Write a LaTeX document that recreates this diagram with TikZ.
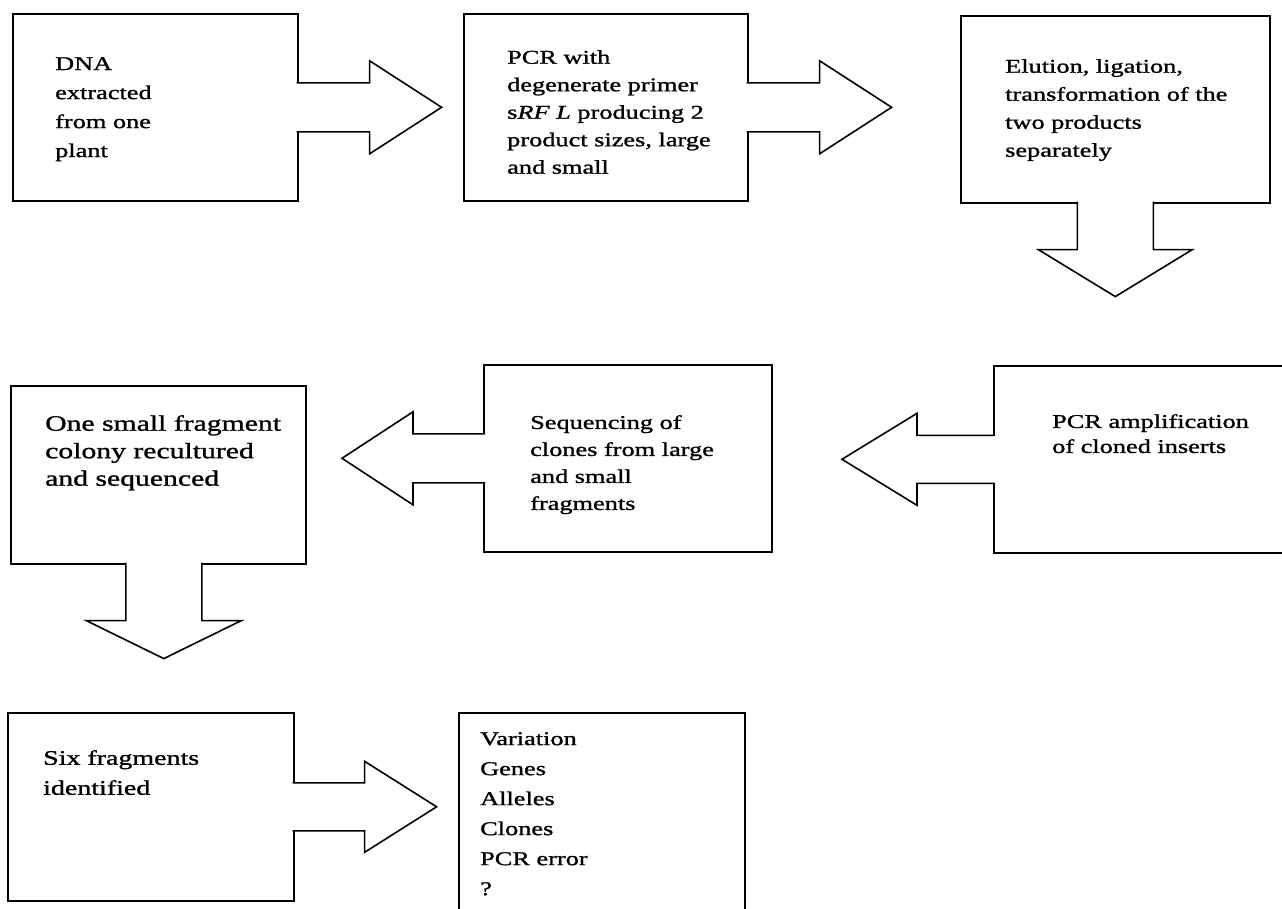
\documentclass[tikz,border=0pt]{standalone}
\usepackage{fontspec}
\setmainfont{Liberation Serif}[FakeStretch=1.35, FakeBold=1.2]
\usetikzlibrary{calc}

\begin{document}
\begin{tikzpicture}[
  x=1pt, y=-1pt,
  stagebox/.style={
    draw,
    line width=1.6pt,
    anchor=north west,
    inner sep=0pt
  },
  steptext/.style={
    anchor=north west,
    inner sep=0pt,
    align=left,
    font=\fontsize{19.5}{28}\selectfont
  },
  blockarrow/.style={draw, fill=white, line width=1.6pt, line join=miter}
]
\useasboundingbox (0,0) rectangle (1282,908);
\clip (0,0) rectangle (1282,908);

% boxes
\node[stagebox, minimum width=285, minimum height=187] (dna) at (12,13) {};
\node[stagebox, minimum width=284, minimum height=187] (pcr) at (463,13) {};
\node[stagebox, minimum width=309, minimum height=187] (elution) at (960,15) {};
\node[stagebox, minimum width=320, minimum height=187] (amplif) at (993,365) {};
\node[stagebox, minimum width=288, minimum height=187] (seq) at (483,364) {};
\node[stagebox, minimum width=295, minimum height=178] (recult) at (10,385) {};
\node[stagebox, minimum width=286, minimum height=188] (six) at (7,712) {};
\node[stagebox, minimum width=286, minimum height=230] (result) at (458,712) {};

% texts
\node[steptext, font=\fontsize{19.5}{29}\selectfont] (dnatext) at (55,57)
  {DNA\\extracted\\from one\\plant};
\node[steptext, font=\fontsize{19.5}{27.5}\selectfont] (pcrtext) at (507,50)
  {PCR with\\degenerate primer\\s\textit{RF L} producing 2\\product sizes, large\\and small};
\node[steptext] (eluttext) at (1005,59)
  {Elution, ligation,\\transformation of the\\two products\\separately};
\node[steptext, font=\fontsize{19.5}{25}\selectfont] (amptext) at (1052,414)
  {PCR amplification\\of cloned inserts};
\node[steptext, font=\fontsize{19.5}{27}\selectfont] (seqtext) at (530,415)
  {Sequencing of\\clones from large\\and small\\fragments};
\node[steptext, font=\fontsize{22}{27.5}\selectfont] (recultext) at (45,415)
  {One small fragment\\colony recultured\\and sequenced};
\node[steptext, font=\fontsize{20.7}{30}\selectfont] (sixtext) at (43,750)
  {Six fragments\\identified};
\node[steptext, font=\fontsize{19.5}{30}\selectfont] (resulttext) at (480,732)
  {Variation\\Genes\\Alleles\\Clones\\PCR error\\?};

% block arrows
\draw[blockarrow] ($(dna.east)+(-2,-24.5)$) -- ++(73,0) -- ++(0,-22) -- ++(72,46.5)
  -- ++(-72,46.5) -- ++(0,-22) -- ++(-73,0);
\draw[blockarrow] ($(pcr.east)+(-2,-24.5)$) -- ++(73,0) -- ++(0,-22) -- ++(72,46.5)
  -- ++(-72,46.5) -- ++(0,-22) -- ++(-73,0);
\draw[blockarrow] ($(elution.south)+(-38,-2)$) -- ++(0,48) -- ++(-39,0) -- ++(77,47)
  -- ++(77,-47) -- ++(-39,0) -- ++(0,-48);
\draw[blockarrow] ($(amplif.west)+(2,-24)$) -- ++(-78,0) -- ++(0,-22) -- ++(-75,46)
  -- ++(75,46) -- ++(0,-22) -- ++(78,0);
\draw[blockarrow] ($(seq.west)+(2,-24.5)$) -- ++(-72,0) -- ++(0,-22) -- ++(-71,46.5)
  -- ++(71,46.5) -- ++(0,-22) -- ++(72,0);
\draw[blockarrow] ($(recult.south)+(-32.5,-2)$) -- ++(0,58) -- ++(-39.5,0) -- ++(77.5,38)
  -- ++(77.5,-38) -- ++(-39.5,0) -- ++(0,-58);
\draw[blockarrow] ($(six.east)+(-2,-24)$) -- ++(72,0) -- ++(0,-21.5) -- ++(72,45.5)
  -- ++(-72,45.5) -- ++(0,-21.5) -- ++(-72,0);
\end{tikzpicture}
\end{document}
